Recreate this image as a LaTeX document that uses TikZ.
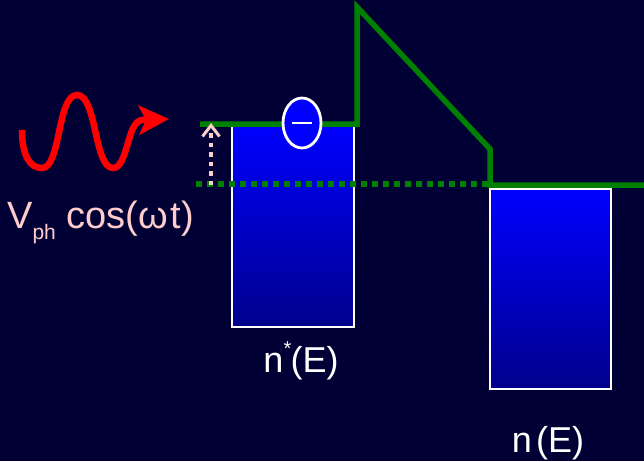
\documentclass[tikz,border=0pt]{standalone}
\usepackage{fontspec}
\setmainfont{Liberation Sans}
\usetikzlibrary{arrows.meta,shapes.geometric}
\definecolor{bgnavy}{RGB}{0,0,52}
\definecolor{bandgreen}{RGB}{0,128,0}
\definecolor{pinktxt}{RGB}{255,204,204}
\definecolor{wavered}{RGB}{255,0,0}
\definecolor{boxdark}{RGB}{0,0,140}
\tikzset{
  dosbox/.style={draw=white,line width=2.2pt,top color=blue,bottom color=boxdark},
  band/.style={draw=bandgreen,line width=5.5pt},
  fermi/.style={draw=bandgreen,line width=5.5pt,dash pattern=on 6pt off 5pt},
  lbl/.style={text=white,font=\fontsize{36}{40}\selectfont,inner sep=0pt,anchor=base},
}
\begin{document}
\begin{tikzpicture}[x=1pt,y=-1pt]
\fill[bgnavy] (0,0) rectangle (644,461);
\useasboundingbox (0,0) rectangle (644,461);
% density of states boxes
\path[dosbox] (232,124) rectangle (354,327);
\path[dosbox] (490,189) rectangle (611,389);
% band profile
\coordinate (b0) at (200,124);
\coordinate (b1) at (357,124);
\coordinate (b2) at (357,7);
\coordinate (b3) at (490,149);
\coordinate (b4) at (490,185);
\coordinate (b5) at (644,185);
\draw[band,line join=miter] (b0) -- (b1) -- (b2) -- (b3) -- (b4) -- (b5);
% Fermi level dotted
\coordinate (f0) at (196,184);
\coordinate (f1) at (488,184);
\draw[fermi] (f0) -- (f1);
% excitation arrow
\coordinate (e0) at (211,185);
\coordinate (e1) at (211,123);
\draw[pinktxt,line width=4.5pt,dash pattern=on 4.5pt off 5pt,-{Straight Barb[length=11pt,width=17pt,line width=3pt]}] (e0) -- (e1);
% electron
\node[ellipse,draw=white,line width=2.8pt,fill=blue,minimum width=38pt,minimum height=50pt,inner sep=0pt] (el) at (302,123) {};
\draw[white,line width=2.8pt] ([xshift=-10pt]el.center) -- ([xshift=10pt]el.center);
% photon
\coordinate (w0) at (22,130);
\coordinate (w5) at (169,119);
\draw[wavered,line width=6.5pt,-{Stealth[length=30pt,width=29pt,inset=7pt]}] (w0) .. controls (22,156) and (30,168) .. (42,168)
  .. controls (61,168) and (57,95) .. (77,95)
  .. controls (97,95) and (94,168) .. (113,168)
  .. controls (128,168) and (127,121) .. (142,120) -- (w5);
% labels
\node[lbl,text=pinktxt,anchor=base west,font=\fontsize{38}{40}\selectfont] (vph) at (7,228) {V\raisebox{-0.3em}{\fontsize{21}{21}\selectfont ph} cos(ω\hspace{0.08em}t)};
\node[lbl] (nstar) at (301,372) {n\kern0.01em\raisebox{0.45em}{\fontsize{20}{20}\selectfont *}\kern-0.02em(E)};
\node[lbl] (n) at (548,452) {n\hspace{0.12em}(E)};
\end{tikzpicture}
\end{document}
